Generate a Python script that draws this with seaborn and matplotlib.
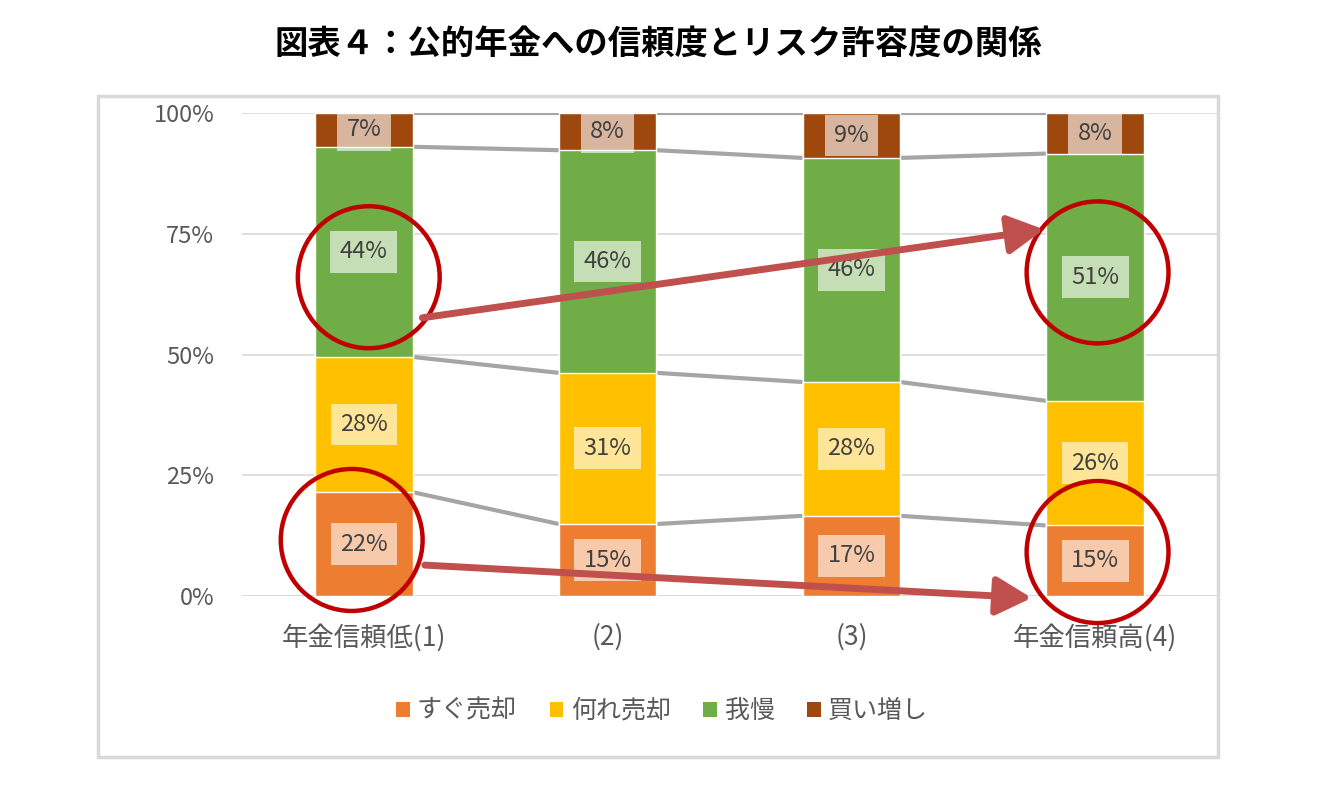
import matplotlib
matplotlib.use("Agg")
import matplotlib.pyplot as plt
from matplotlib.patches import Ellipse, Rectangle, Patch
import seaborn as sns
import pandas as pd
import numpy as np

# ---- data ----
categories = ["年金信頼低(1)", "(2)", "(3)", "年金信頼高(4)"]
series_names = ["すぐ売却", "何れ売却", "我慢", "買い増し"]
sell_now = [21.5, 14.9, 16.6, 14.6]
sell_later = [28.0, 31.3, 27.7, 25.8]
endure = [43.5, 46.1, 46.4, 51.2]
buy_more = [7.0, 7.7, 9.3, 8.4]
colors = ["#ED7D31", "#FFC000", "#70AD47", "#9E480E"]
yticks = [0, 25, 50, 75, 100]
title = "図表４：公的年金への信頼度とリスク許容度の関係"

sns.set_theme(style="white")
plt.rcParams['font.family'] = ['Noto Sans CJK JP', 'DejaVu Sans']

W, H = 1337, 799
fig = plt.figure(figsize=(W / 100, H / 100), dpi=100)
ax = fig.add_axes([242 / W, 1 - 596 / H, (1217 - 242) / W, (596 - 113) / H])

layers = [sell_now, sell_later, endure, buy_more]
cum = np.cumsum(np.array(layers), axis=0)  # 4 x n
df = pd.DataFrame({"cat": categories})
for k in range(4):
    df[f"c{k}"] = cum[k]

# stacked bars: draw cumulative totals from top down
for k in range(3, -1, -1):
    sns.barplot(data=df, x="cat", y=f"c{k}", order=categories, color=colors[k],
                width=0.4, saturation=1, errorbar=None, ax=ax, zorder=2)

# series lines
for k in range(4):
    for i in range(len(categories) - 1):
        ax.plot([i + 0.2, i + 0.8], [cum[k][i], cum[k][i + 1]], color="#A5A5A5",
                lw=3, zorder=1, solid_capstyle="butt")

# data labels
for k in range(4):
    for i in range(len(categories)):
        v = layers[k][i]
        bottom = cum[k][i] - v
        ax.text(i, bottom + v / 2, f"{v:.0f}%", ha="center", va="center",
                fontsize=17, color="#404040", zorder=5,
                bbox=dict(boxstyle="square,pad=0.4", fc=(1, 1, 1, 0.6), ec="none"))

ax.set_xlim(-0.5, 3.5)
ax.set_ylim(0, 100)
ax.set_yticks(yticks)
ax.set_yticklabels([f"{t}%" for t in yticks])
ax.yaxis.grid(True, color="#D9D9D9", lw=1.2, zorder=0)
ax.set_axisbelow(True)
for s in ax.spines.values():
    s.set_visible(False)
ax.set_xlabel("")
ax.set_ylabel("")
ax.tick_params(axis="y", length=0, pad=20, labelsize=17, labelcolor="#595959")
ax.tick_params(axis="x", length=0, pad=20, labelsize=19, labelcolor="#595959")
ax.axhline(0, color="#D9D9D9", lw=1.2, zorder=0)

# annotations: circles (in pixel-equivalent data units)
xu = 244.0  # px per category
yu = 4.83   # px per percent
r = 71
for (cx, cy) in [(0.02, 66), (-0.05, 11.6), (3.01, 67), (3.01, 9.1)]:
    ax.add_patch(Ellipse((cx, cy), 2 * r / xu, 2 * r / yu, fill=False,
                         ec="#C00000", lw=3.2, zorder=6, clip_on=False))

# arrows
for start, end in [((0.24, 57.6), (2.79, 75.9)), ((0.25, 6.4), (2.74, -0.4))]:
    ax.annotate("", xy=end, xytext=start, annotation_clip=False, zorder=7,
                arrowprops=dict(arrowstyle="-|>,head_length=1.2,head_width=0.65",
                                mutation_scale=18, lw=5, color="#C0504D",
                                shrinkA=0, shrinkB=0))

# legend
handles = [Patch(facecolor=c, edgecolor="none") for c in colors]
fig.legend(handles, series_names, loc="center", bbox_to_anchor=(662 / W, 1 - 711 / H),
           ncol=4, frameon=False, fontsize=18, handlelength=0.55, handleheight=0.55,
           handletextpad=0.3, columnspacing=1.3, labelcolor="#595959")

# frame
fig.patches.append(Rectangle((98 / W, 1 - 757 / H), (1218 - 98) / W, (757 - 96) / H,
                             transform=fig.transFigure, fill=False, ec="#D9D9D9", lw=2.5))

fig.text(658 / W, 1 - 44 / H, title, ha="center", va="center", fontsize=24,
         fontweight="bold", color="black")

fig.savefig("out.png", dpi=100)
